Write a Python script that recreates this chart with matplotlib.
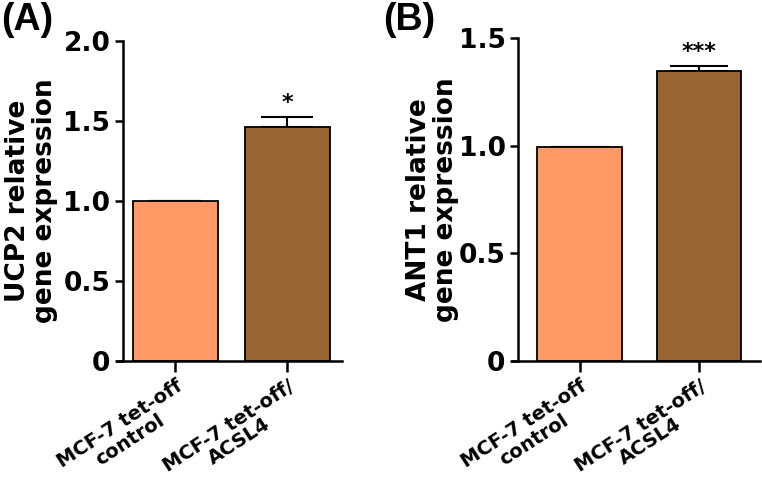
import numpy as np
import matplotlib.pyplot as plt

plt.rcParams['font.family'] = ['DejaVu Sans']
plt.rcParams['font.weight'] = 'bold'

groups = ['MCF-7 tet-off\ncontrol', 'MCF-7 tet-off/\nACSL4']
colors = ['#FF9966', '#996633']

ucp2_mean = [1.0, 1.46]
ucp2_err = [0.0, 0.065]
ucp2_sig = ['', '*']

ant1_mean = [0.995, 1.347]
ant1_err = [0.0, 0.022]
ant1_sig = ['', '***']

fig = plt.figure(figsize=(7.62, 4.92), dpi=100)
axA = fig.add_axes([0.1614, 0.2663, 0.2874, 0.6504])
axB = fig.add_axes([0.6798, 0.2663, 0.3176, 0.6565])


def panel(ax, mean, err, sig, width, ylim, yticks, ylabel, xlim, cap, lpad):
    x = np.arange(len(mean))
    ax.bar(x, mean, width=width, color=colors, edgecolor='black', linewidth=1.3, zorder=2)
    ax.errorbar(x, mean, yerr=[np.zeros(len(err)), err], fmt='none', ecolor='black',
                elinewidth=1.5, capsize=cap, capthick=1.5, zorder=1)
    for xi, m, e, s in zip(x, mean, err, sig):
        if s:
            ax.text(xi, m + e + ylim[1] * 0.012, s, ha='center', va='bottom',
                    fontsize=16, fontweight='bold')
    ax.set_xlim(*xlim)
    ax.set_ylim(*ylim)
    ax.set_yticks(yticks)
    ax.set_yticklabels(['0' if t == 0 else f'{t:.1f}' for t in yticks],
                       fontsize=19, fontweight='bold')
    ax.set_xticks(x)
    ax.set_xticklabels(groups, rotation=33, ha='right', va='top', rotation_mode='anchor',
                       fontsize=14, fontweight='bold', multialignment='center',
                       linespacing=1.0)
    ax.set_ylabel(ylabel, fontsize=19, fontweight='bold', labelpad=lpad, linespacing=1.05)
    for s in ['top', 'right']:
        ax.spines[s].set_visible(False)
    for s in ['left', 'bottom']:
        ax.spines[s].set_linewidth(1.8)
    ax.spines['bottom'].set_bounds(xlim[0] - 0.05, xlim[1])
    ax.tick_params(axis='y', width=1.8, length=6, direction='out', pad=3)
    ax.tick_params(axis='x', width=1.8, length=8, direction='out', pad=3)


panel(axA, ucp2_mean, ucp2_err, ucp2_sig, 0.76, (0, 2.0), [0, 0.5, 1.0, 1.5, 2.0],
      'UCP2 relative\ngene expression', (-0.469, 1.487), 19, 4)
panel(axB, ant1_mean, ant1_err, ant1_sig, 0.71, (0, 1.5), [0, 0.5, 1.0, 1.5],
      'ANT1 relative\ngene expression', (-0.515, 1.51), 21, 0)

fig.text(0.002, 0.995, '(A)', fontsize=27, fontweight='bold', va='top', ha='left',
         family='Liberation Sans')
fig.text(0.503, 0.995, '(B)', fontsize=27, fontweight='bold', va='top', ha='left',
         family='Liberation Sans')

fig.savefig('out.png', dpi=100)
